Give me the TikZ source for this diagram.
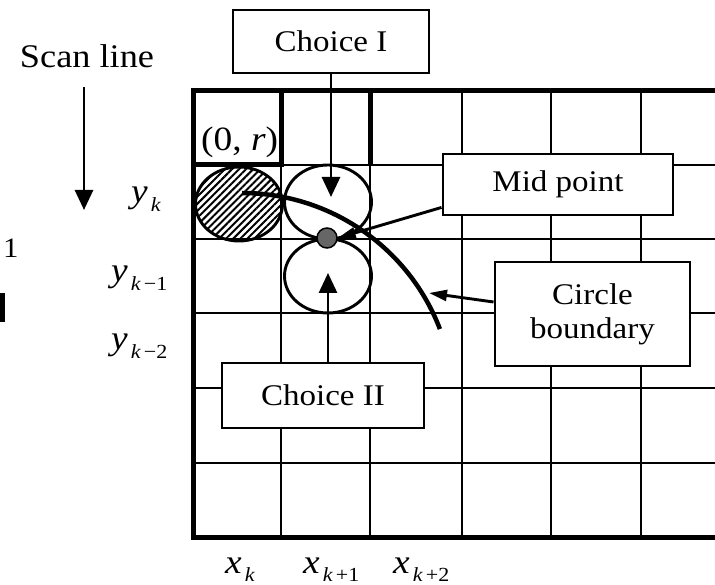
\documentclass[tikz,border=0pt]{standalone}
\usepackage{fontspec}
\setmainfont{Liberation Serif}[FakeStretch=1.1]
\usetikzlibrary{arrows.meta,patterns.meta,shapes.geometric}
\newcommand\mylab[2]{\textit{#1}\hspace{3pt}\raisebox{-8.5pt}{\fontsize{20}{20}\selectfont #2}}
\begin{document}
\begin{tikzpicture}[x=1pt,y=-1pt,
  gridline/.style={line width=2.9pt},
  border/.style={line width=5pt},
  box/.style={draw,line width=2.9pt,fill=white,inner sep=0pt,font=\fontsize{30}{34}\selectfont,align=center},
  arr/.style={line width=2.9pt,-{Triangle[length=20pt,width=18pt]}},
  sarr/.style={line width=2.9pt,-{Triangle[length=18pt,width=11pt]}},
  ell/.style={ellipse,draw,line width=2.9pt,inner sep=0pt,minimum width=87pt,minimum height=74pt},
  txt/.style={inner sep=0pt,font=\fontsize{33}{36}\selectfont},
  mtxt/.style={inner sep=0pt,anchor=base west,font=\fontsize{34}{36}\selectfont},
  curve/.style={line width=4.5pt}
]
\useasboundingbox (0,0) rectangle (715,585);
% grid
\foreach \xx in {281,370,462,551,641} \draw[gridline] (\xx,91) -- (\xx,537);
\foreach \yy in {165,239,313,388,463} \draw[gridline] (193,\yy) -- (715,\yy);
\draw[border] (715,91) -- (193,91) -- (193,537) -- (715,537);
\draw[border] (193,91) rectangle (281,165);
\draw[border] (370,91) -- (370,165);
% ellipses
\node[ell,pattern={Lines[angle=45,distance=5pt,line width=2pt]}] (e1) at (239,204) {};
\node[ell] (e2) at (328,202) {};
\node[ell] (e3) at (328,276) {};
% circle boundary arc
\draw[curve] (242,193) arc[start angle=-90,end angle=-21,radius=212];
\node[circle,draw,line width=1.5pt,fill=black!60,minimum width=20pt,inner sep=0pt] (dot) at (327,238) {};
% labels left
\node[txt,anchor=base] (scan) at (87,68) {Scan line};
\coordinate (s0) at (84,87);
\coordinate (s1) at (84,210);
\draw[arr] (s0) -- (s1);
\node[inner sep=0pt,anchor=base west,font=\fontsize{28}{30}\selectfont] (one) at (3,258) {1};
\fill (0,293) rectangle (5,322);
\node[mtxt] (or) at (201,151) {(0, \textit{r})};
\node[mtxt] (yk) at (131,203) {\mylab{y}{\textit{k}}};
\node[mtxt] (yk1) at (111,282) {\mylab{y}{\textit{k}\hspace{3pt}−1}};
\node[mtxt] (yk2) at (111,350) {\mylab{y}{\textit{k}\hspace{3pt}−2}};
\node[mtxt] (xk) at (225,573) {\mylab{x}{\textit{k}}};
\node[mtxt] (xk1) at (303,573) {\mylab{x}{\textit{k}\hspace{3pt}+1}};
\node[mtxt] (xk2) at (393,573) {\mylab{x}{\textit{k}\hspace{3pt}+2}};
% boxes
\node[box,minimum width=196pt,minimum height=63pt] (c1) at (331,41.5) {Choice I};
\node[box,minimum width=230pt,minimum height=61pt] (mid) at (558,184.5) {Mid point};
\node[box,minimum width=195pt,minimum height=104pt] (cb) at (592.5,314) {Circle\\boundary};
\node[box,minimum width=202pt,minimum height=65pt] (c2) at (323,395.5) {Choice II};
% arrows
\coordinate (t1) at (331,197);
\coordinate (t2) at (328,273);
\coordinate (t3) at (429,293);
\draw[arr] (c1.south) -- (t1);
\draw[arr] ([xshift=5pt]c2.north) -- (t2);
\draw[sarr] ([yshift=9pt]mid.south west) -- (dot.east);
\draw[sarr] ([yshift=12pt]cb.west) -- (t3);
\end{tikzpicture}
\end{document}
